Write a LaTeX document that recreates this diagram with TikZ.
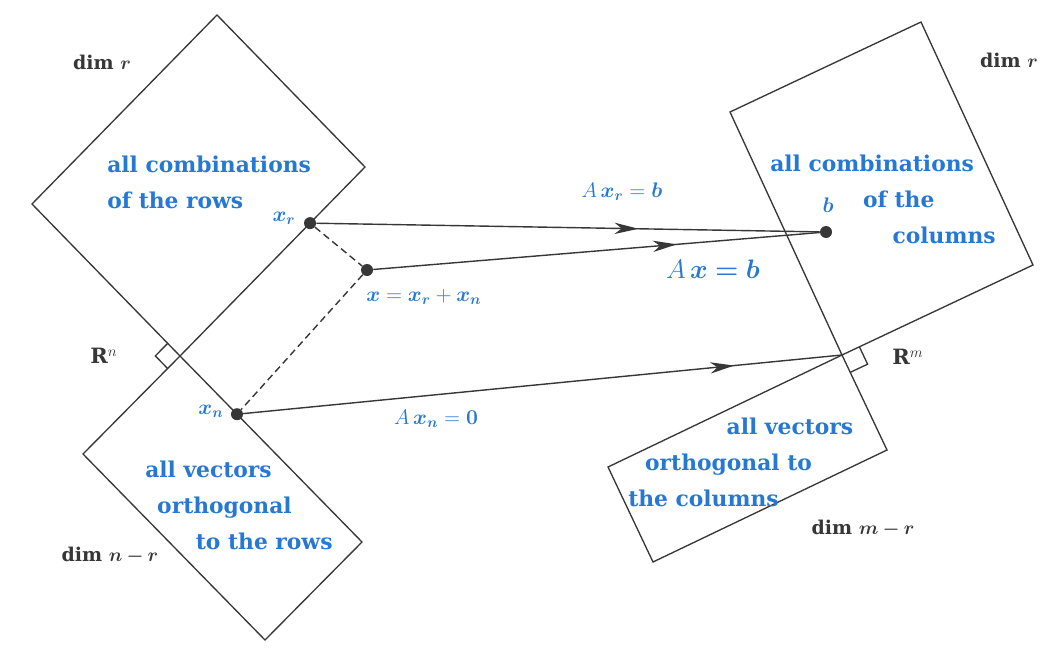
\RequirePackage{fix-cm}
\documentclass[tikz,border=0pt]{standalone}
\usepackage{fontspec}
\usepackage{amsmath}
\usepackage{bm}
\setmainfont{DejaVu Serif}
\usetikzlibrary{calc,arrows.meta,decorations.markings}
\definecolor{spaceblue}{RGB}{38,120,210}
\definecolor{linegray}{RGB}{55,55,55}

\begin{document}
\begin{tikzpicture}[x=0.025cm,y=-0.025cm,
    plane/.style={draw=linegray,line width=0.95pt},
    dot/.style={circle,fill=linegray,inner sep=0pt,minimum size=3mm},
    map/.style={draw=linegray,line width=1pt},
    midarrow/.style={postaction={decorate,decoration={markings,
        mark=at position #1 with {\arrow{Stealth[length=17pt,width=8pt,inset=5pt]}}}}},
    bluetext/.style={text=spaceblue,font=\spacefontsize,inner sep=0pt},
    graytext/.style={text=linegray,font=\dimfontsize,inner sep=0pt},
    mathlabel/.style={text=spaceblue,font=\mathfontsize,inner sep=0pt}]
    \providecommand{\spacefontsize}{\fontsize{15.5}{25.6}\selectfont\bfseries}
    \providecommand{\dimfontsize}{\fontsize{13.5}{16}\selectfont\bfseries}
    \providecommand{\mathfontsize}{\fontsize{15}{17}\selectfont}
    \useasboundingbox (0,0) rectangle (1045,650);
    % row space and nullspace
    \coordinate (O1) at (180,356);
    \coordinate (L) at (32,204);
    \coordinate (R) at (365,167);
    \coordinate (T) at (217,15);
    \coordinate (NL) at (83,454);
    \coordinate (NR) at (362,542);
    \coordinate (NB) at (265,640);
    \draw[plane] (O1) -- (L) -- (T) -- (R) -- cycle;
    \draw[plane] (O1) -- (NL) -- (NB) -- (NR) -- cycle;
    \coordinate (m1) at ($(O1)!0.44cm!(L)$);
    \coordinate (m2) at ($(O1)!0.44cm!(NL)$);
    \draw[plane] (m1) -- ($(m1)+(m2)-(O1)$) -- (m2);
    % column space and left nullspace
    \coordinate (O2) at (842,355);
    \coordinate (L2) at (730,112);
    \coordinate (R2) at (1033,265);
    \coordinate (T2) at (921,22);
    \coordinate (NL2) at (608,467);
    \coordinate (NR2) at (887,450);
    \coordinate (NB2) at (653,562);
    \draw[plane] (O2) -- (L2) -- (T2) -- (R2) -- cycle;
    \draw[plane] (O2) -- (NL2) -- (NB2) -- (NR2) -- cycle;
    \coordinate (m3) at ($(O2)!0.48cm!(R2)$);
    \coordinate (m4) at ($(O2)!0.48cm!(NR2)$);
    \draw[plane] (m3) -- ($(m3)+(m4)-(O2)$) -- (m4);
    % points
    \node[dot] (xr) at ($(R)!0.297!(O1)$) {};
    \node[dot] (xn) at ($(O1)!0.313!(NR)$) {};
    \node[dot] (x) at (367,270) {};
    \node[dot] (b) at (826,232) {};
    \draw[map,dash pattern=on 5pt off 3pt] (xr) -- (x);
    \draw[map,dash pattern=on 5pt off 3pt] (x) -- (xn);
    \draw[map,midarrow=0.64] (xr) -- (b);
    \draw[map,midarrow=0.68] (x) -- (b);
    \draw[map,midarrow=0.82] (xn) -- (O2);
    % labels
    \node[graytext] (dimr1) at (102,62) {dim $\bm{r}$};
    \node[graytext] (dimnr) at (110,556) {dim $\bm{n-r}$};
    \node[graytext] (dimr2) at (1009,60) {dim $\bm{r}$};
    \node[graytext] (dimmr) at (863,529) {dim $\bm{m-r}$};
    \node[graytext,font=\fontsize{15}{17}\selectfont] (Rn) at (104,356) {$\mathbf{R}^n$};
    \node[graytext,font=\fontsize{15}{17}\selectfont] (Rm) at (908,357) {$\mathbf{R}^m$};
    \node[bluetext,align=left,anchor=west] (rowtext) at (107,182) {all combinations\\of the rows};
    \node[bluetext,align=left,anchor=west] (nulltext) at (145,505) {all vectors\\\hspace*{8.5pt}orthogonal\\\hspace*{36pt}to the rows};
    \node[bluetext,align=left,anchor=west] (coltext) at (770,199) {all combinations\\\hspace*{66pt}of the\\\hspace*{87pt}columns};
    \node[bluetext,align=left,anchor=west] (lefttext) at (628,462) {\hspace*{70pt}all vectors\\\hspace*{12pt}orthogonal to\\the columns};
    \node[mathlabel] (xrlabel) at (284,218) {$\bm{x}_{\bm{r}}$};
    \node[mathlabel] (xnlabel) at (211,411) {$\bm{x}_{\bm{n}}$};
    \node[mathlabel,anchor=west] (xlabel) at (366,297) {$\bm{x}=\bm{x}_{\bm{r}}+\bm{x}_{\bm{n}}$};
    \node[mathlabel] (blabel) at (828,205) {$\bm{b}$};
    \node[mathlabel] (Axr) at (622,192) {$A\,\bm{x}_{\bm{r}}=\bm{b}$};
    \node[mathlabel,font=\fontsize{19}{21}\selectfont] (Ax) at (713,269) {$A\,\bm{x}\bm{=}\bm{b}$};
    \node[mathlabel] (Axn) at (436,419) {$A\,\bm{x}_{\bm{n}}=\bm{0}$};
\end{tikzpicture}
\end{document}
